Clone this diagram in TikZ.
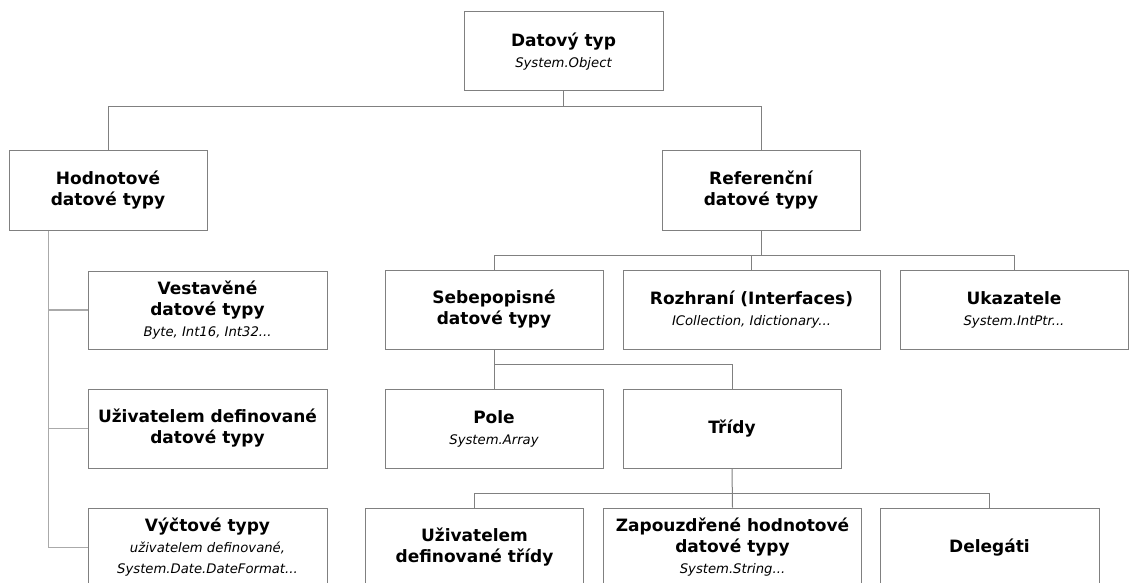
\documentclass[tikz,border=0pt]{standalone}
\usepackage{fontspec}
\setmainfont{DejaVu Sans}
\usetikzlibrary{calc}

\definecolor{boxgray}{RGB}{128,128,128}
\definecolor{linkgray}{RGB}{128,128,128}
\definecolor{trunkgray}{RGB}{170,170,170}

% italic second line inside a box
\newcommand\subtxt[1]{{\fontsize{13.2}{21}\selectfont\itshape\mdseries #1}}

\begin{document}
\begin{tikzpicture}[x=1pt,y=-1pt,
  box/.style={draw=boxgray, line width=1pt, rectangle, inner sep=0pt,
    align=center, fill=white,
    font=\fontsize{17}{21}\selectfont\bfseries},
  link/.style={draw=linkgray, line width=1pt},
  trunk/.style={draw=trunkgray, line width=1.5pt}]

\useasboundingbox (0,0) rectangle (1129,583);
\clip (0,0) rectangle (1129,583);

% top level
\node[box, minimum width=199, minimum height=79] (top) at (563.5,51.5)
  {Datový typ\\\subtxt{System.Object}};

% second level
\node[box, minimum width=198, minimum height=80] (hod) at (108,190)
  {Hodnotové\\datové typy};
\node[box, minimum width=198, minimum height=80] (ref) at (761,190)
  {Referenční\\datové typy};

% value types
\node[box, minimum width=239, minimum height=78] (vest) at (207.5,310)
  {Vestavěné\\datové typy\\\subtxt{Byte, Int16, Int32...}};
\node[box, minimum width=239, minimum height=79] (udd) at (207.5,428.5)
  {Uživatelem definované\\datové typy};
\node[box, minimum width=239, minimum height=79] (vyc) at (207.5,547.5)
  {Výčtové typy\\\subtxt{uživatelem definované,}\\\subtxt{System.Date.DateFormat...}};

% reference types
\node[box, minimum width=218, minimum height=79] (seb) at (494,309.5)
  {Sebepopisné\\datové typy};
\node[box, minimum width=257, minimum height=79] (roz) at (751.5,309.5)
  {Rozhraní (Interfaces)\\\subtxt{ICollection, Idictionary...}};
\node[box, minimum width=228, minimum height=79] (uka) at (1014,309.5)
  {Ukazatele\\\subtxt{System.IntPtr...}};

% self-describing types
\node[box, minimum width=218, minimum height=79] (pole) at (494,428.5)
  {Pole\\\subtxt{System.Array}};
\node[box, minimum width=218, minimum height=79] (tridy) at (732,428.5)
  {Třídy};

% classes
\node[box, minimum width=218, minimum height=79] (udt) at (474.5,547.5)
  {Uživatelem\\definované třídy};
\node[box, minimum width=258, minimum height=79] (zap) at (732.5,547.5)
  {Zapouzdřené hodnotové\\datové typy\\\subtxt{System.String...}};
\node[box, minimum width=219, minimum height=79] (del) at (989.5,547.5)
  {Delegáti};

% connectors
\coordinate (topbar) at ($(top.south)+(0,15)$);
\draw[link] (top.south) -- (topbar);
\draw[link] (hod.north) |- (topbar) -| (ref.north);

\coordinate (refbar) at ($(ref.south)+(0,25)$);
\draw[link] (ref.south) -- (refbar);
\draw[link] (seb.north) |- (refbar) -| (uka.north);
\draw[link] (roz.north) -- (roz.north |- refbar);

\coordinate (sebbar) at ($(seb.south)+(0,15)$);
\draw[link] (seb.south) -- (pole.north);
\draw[link] (sebbar) -| (tridy.north);

\coordinate (tribar) at ($(tridy.south)+(0,25)$);
\draw[link] (tridy.south) -- (zap.north);
\draw[link] (udt.north) |- (tribar) -| (del.north);

\coordinate (hodtrunk) at ($(hod.south west)+(40,0)$);
\draw[trunk] (hodtrunk) |- (vyc.west);
\draw[trunk] (hodtrunk |- vest.west) -- (vest.west);
\draw[trunk] (hodtrunk |- udd.west) -- (udd.west);

\end{tikzpicture}
\end{document}
